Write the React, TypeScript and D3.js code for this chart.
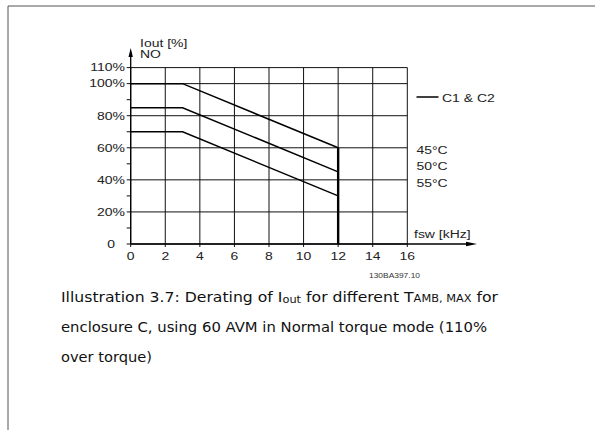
import React from "react";
import * as d3 from "d3";

const freqPoints = [0, 3, 12];
const seriesNames = ["45°C", "50°C", "55°C"];
const seriesValues = [
  [100, 100, 60],
  [85, 85, 45],
  [70, 70, 30],
];
const xTicks = [0, 2, 4, 6, 8, 10, 12, 14, 16];
const yMajor = [0, 20, 40, 60, 80, 100, 110];
const yLabels = ["0", "20%", "40%", "60%", "80%", "100%", "110%"];
const yMinor = [10, 30, 50, 70, 90];
const cutoffFreq = 12;

const font = "'Liberation Sans', Arial, sans-serif";
const capFont = "'DejaVu Sans', Tahoma, sans-serif";
const SX = 1.27;

function T({
  x,
  y,
  anchor = "start",
  size = 11,
  children,
}: {
  x: number;
  y: number;
  anchor?: string;
  size?: number;
  children: React.ReactNode;
}) {
  return (
    <g transform={`translate(${x},${y}) scale(${SX},1)`}>
      <text x={0} y={0} textAnchor={anchor} fontFamily={font} fontSize={size} fill="#222">
        {children}
      </text>
    </g>
  );
}

export default function App() {
  const x = d3.scaleLinear().domain([0, 16]).range([130.7, 407.3]);
  const y = d3.scaleLinear().domain([0, 110]).range([244, 67.6]);
  const line = d3
    .line<[number, number]>()
    .x((d) => x(d[0]))
    .y((d) => y(d[1]));
  const x0 = x(0);
  const y0 = y(0);
  return (
    <svg
      width={595}
      height={430}
      style={{ position: "absolute", left: 0, top: 0, background: "#fff" }}
    >
      {/* frame */}
      <line x1={8} y1={6} x2={595} y2={6} stroke="#555" strokeWidth={1} />
      <line x1={8} y1={6} x2={8} y2={430} stroke="#555" strokeWidth={1} />

      {/* vertical grid */}
      {xTicks.map((t) => (
        <line
          key={"vx" + t}
          x1={x(t)}
          x2={x(t)}
          y1={y(110)}
          y2={y0 + 3}
          stroke="#111"
          strokeWidth={1}
        />
      ))}
      {/* horizontal grid */}
      {yMajor.map((t) => (
        <line
          key={"hy" + t}
          x1={x0 - 4}
          x2={x(16)}
          y1={y(t)}
          y2={y(t)}
          stroke="#111"
          strokeWidth={1}
        />
      ))}
      {yMinor.map((t) => (
        <line
          key={"my" + t}
          x1={x0 - 4}
          x2={x0}
          y1={y(t)}
          y2={y(t)}
          stroke="#111"
          strokeWidth={1}
        />
      ))}
      {/* axes */}
      <line x1={x0} x2={x0} y1={y0} y2={52} stroke="#000" strokeWidth={1.3} />
      <path d={`M${x0 - 2.2},${57} L${x0},${48} L${x0 + 2.2},${57} Z`} fill="#000" />
      <line x1={x0} x2={468} y1={y0} y2={y0} stroke="#000" strokeWidth={1.3} />
      <path d={`M466,${y0 - 2.2} L477,${y0} L466,${y0 + 2.2} Z`} fill="#000" />

      {/* cutoff */}
      <line
        x1={x(cutoffFreq)}
        x2={x(cutoffFreq)}
        y1={y(seriesValues[0][2])}
        y2={y0}
        stroke="#000"
        strokeWidth={2.4}
      />
      {/* curves */}
      {seriesValues.map((vals, i) => (
        <path
          key={seriesNames[i]}
          d={line(freqPoints.map((f, j) => [f, vals[j]]) as [number, number][]) || ""}
          fill="none"
          stroke="#000"
          strokeWidth={1.5}
        />
      ))}

      {/* tick labels */}
      {yMajor.map((t, i) => (
        <T key={"yl" + t} x={t === 0 ? 115 : 125} y={y(t) + 3.8} anchor="end">
          {yLabels[i]}
        </T>
      ))}
      {xTicks.map((t) => (
        <T key={"xl" + t} x={x(t)} y={260} anchor="middle">
          {t}
        </T>
      ))}

      {/* axis titles */}
      <T x={140} y={46.5}>Iout [%]</T>
      <T x={140} y={57.5}>NO</T>
      <T x={414} y={238}>fsw [kHz]</T>

      {/* legend */}
      <line x1={416.5} x2={438.5} y1={97} y2={97} stroke="#000" strokeWidth={1.5} />
      <T x={442} y={101.5}>C1 &amp; C2</T>
      {seriesNames.map((n, i) => (
        <T key={"sl" + n} x={416.5} y={154 + i * 16.3}>
          {n}
        </T>
      ))}
      <text
        x={369}
        y={278}
        fontFamily={font}
        fontSize={6.5}
        fill="#333"
        textLength={51}
        lengthAdjust="spacingAndGlyphs"
      >
        130BA397.10
      </text>

      {/* caption */}
      <text
        x={61}
        y={301.5}
        fontFamily={capFont}
        fontSize={14.5}
        fill="#111"
        textLength={437}
        lengthAdjust="spacingAndGlyphs"
      >
        Illustration 3.7: Derating of I
        <tspan fontSize={10.5} dy={1.5}>out</tspan>
        <tspan dy={-1.5}> for different T</tspan>
        <tspan fontSize={10.5}>AMB, MAX</tspan>
        <tspan> for</tspan>
      </text>
      <text
        x={61}
        y={331.5}
        fontFamily={capFont}
        fontSize={14.5}
        fill="#111"
        textLength={426}
        lengthAdjust="spacingAndGlyphs"
      >
        enclosure C, using 60 AVM in Normal torque mode (110%
      </text>
      <text
        x={61}
        y={361.5}
        fontFamily={capFont}
        fontSize={14.5}
        fill="#111"
        textLength={91}
        lengthAdjust="spacingAndGlyphs"
      >
        over torque)
      </text>
    </svg>
  );
}
